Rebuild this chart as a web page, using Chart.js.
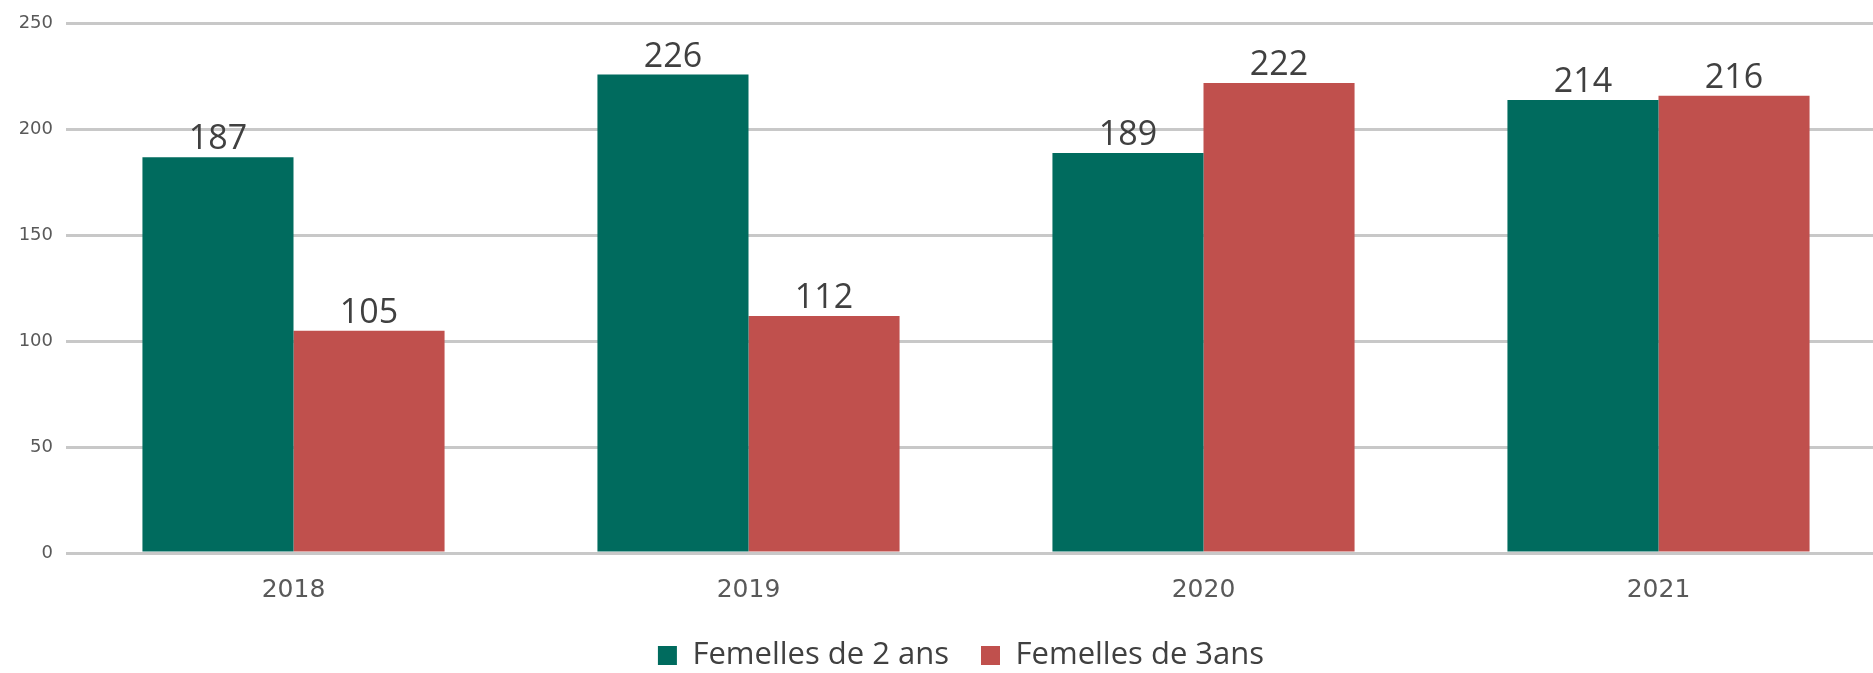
<!DOCTYPE html>
<html>
<head>
<meta charset="utf-8">
<script src="https://cdn.jsdelivr.net/npm/chart.js@4"></script>
<style>
  body { margin: 0; background: #fff; }
  #wrap { width: 1873px; height: 673px; overflow: hidden; }
</style>
</head>
<body>
<div id="wrap"><canvas id="chart" width="1886" height="681"></canvas></div>
<script>
// Data
const years = ['2018', '2019', '2020', '2021'];
const femelles2 = [187, 226, 189, 214];
const femelles3 = [105, 112, 222, 216];
const yMin = 0, yMax = 250, yStep = 50;

// value above each bar
const valueLabels = {
  id: 'valueLabels',
  afterDatasetsDraw(chart) {
    const ctx = chart.ctx;
    ctx.save();
    ctx.font = '34px "Open Sans"';
    ctx.fillStyle = '#404040';
    ctx.textAlign = 'center';
    ctx.textBaseline = 'alphabetic';
    chart.data.datasets.forEach((ds, i) => {
      chart.getDatasetMeta(i).data.forEach((bar, j) => {
        ctx.fillText(ds.data[j], bar.x, bar.y - 8);
      });
    });
    ctx.restore();
  }
};

// the legend sits a little right of the canvas centre in the original
const legendShift = {
  id: 'legendShift',
  afterLayout(chart) {
    chart.legend.left += 18;
    chart.legend.right += 18;
  }
};

const ctx = document.getElementById('chart').getContext('2d');

new Chart(ctx, {
  type: 'bar',
  data: {
    labels: years,
    datasets: [
      {
        label: 'Femelles de 2 ans',
        data: femelles2,
        backgroundColor: '#006b5e',
        borderWidth: 0,
      },
      {
        label: 'Femelles de 3ans',
        data: femelles3,
        backgroundColor: '#c0504d',
        borderWidth: 0,
      },
    ],
  },
  options: {
    responsive: false,
    animation: false,
    categoryPercentage: 0.664,
    barPercentage: 1.0,
    layout: { padding: { top: 22, left: 0, right: 0, bottom: 0 } },
    plugins: {
      tooltip: { enabled: false },
      legend: {
        position: 'bottom',
        labels: {
          boxWidth: 19,
          boxHeight: 19,
          padding: 32,
          color: '#404040',
          font: { family: '"Open Sans"', size: 31 },
        },
      },
    },
    scales: {
      x: {
        grid: { display: false },
        border: { display: false },
        ticks: {
          color: '#595959',
          padding: 14,
          font: { family: '"DejaVu Sans"', size: 25 },
        },
        afterFit(scale) { scale.height = 55; },
      },
      y: {
        min: yMin,
        max: yMax,
        border: { display: false },
        grid: { color: '#c8c8c8', lineWidth: 3, drawTicks: false },
        ticks: {
          stepSize: yStep,
          color: '#595959',
          padding: 13,
          font: { family: '"DejaVu Sans"', size: 18 },
        },
        afterFit(scale) { scale.width = 66; },
      },
    },
  },
  plugins: [valueLabels, legendShift],
});
</script>
</body>
</html>
